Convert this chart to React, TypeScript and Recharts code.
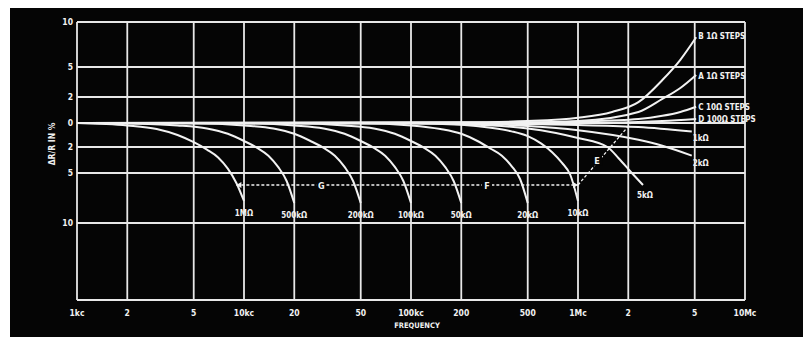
import React from 'react';
import { LineChart, Line, XAxis, YAxis, CartesianGrid, ReferenceDot, Label } from 'recharts';

const freqTicks = [1e3, 2e3, 5e3, 1e4, 2e4, 5e4, 1e5, 2e5, 5e5, 1e6, 2e6, 5e6, 1e7];
const freqLabels = ['1kc', '2', '5', '10kc', '20', '50', '100kc', '200', '500', '1Mc', '2', '5', '10Mc'];
const pctTicks = [10, 5, 2, 0, -2, -5, -10, -20];
const pctLabels = ['10', '5', '2', '0', '2', '5', '10', ''];

// [frequency in c/s, ΔR/R in %]
const r1M = [[1e3, 0], [2e3, -0.2], [3e3, -0.5], [4e3, -1.0], [5e3, -1.6], [6e3, -2.3], [7e3, -3.2], [8e3, -4.5], [9e3, -6.0], [1e4, -7.8]];
const r500k = [[1e3, 0], [2e3, -0.05], [4e3, -0.2], [6e3, -0.45], [8e3, -0.9], [1e4, -1.5], [1.2e4, -2.1], [1.4e4, -3.0], [1.6e4, -4.3], [1.8e4, -5.8], [2e4, -8.0]];
const r200k = [[1e3, 0], [5e3, -0.02], [1e4, -0.2], [1.5e4, -0.45], [2e4, -0.9], [2.5e4, -1.5], [3e4, -2.1], [3.5e4, -3.0], [4e4, -4.3], [4.5e4, -5.8], [5e4, -8.0]];
const r100k = [[1e3, 0], [1e4, -0.02], [2e4, -0.2], [3e4, -0.45], [4e4, -0.9], [5e4, -1.5], [6e4, -2.1], [7e4, -3.0], [8e4, -4.3], [9e4, -5.8], [1e5, -8.0]];
const r50k = [[1e3, 0], [2e4, -0.02], [4e4, -0.2], [6e4, -0.45], [8e4, -0.9], [1e5, -1.5], [1.2e5, -2.1], [1.4e5, -3.0], [1.6e5, -4.3], [1.8e5, -5.8], [2e5, -8.0]];
const r20k = [[1e3, 0], [5e4, -0.02], [1e5, -0.2], [1.5e5, -0.5], [2e5, -0.9], [2.5e5, -1.5], [3e5, -2.2], [3.5e5, -3.0], [4e5, -4.2], [4.5e5, -5.6], [5e5, -8.0]];
const r10k = [[1e3, 0], [1e5, -0.02], [2e5, -0.15], [3e5, -0.4], [4e5, -0.7], [5e5, -1.1], [6e5, -1.7], [7e5, -2.6], [8e5, -3.8], [9e5, -5.2], [1e6, -7.8]];
const r5k = [[1e3, 0], [1e5, 0], [2e5, -0.1], [5e5, -0.45], [1e6, -1.25], [1.5e6, -2.0], [1.75e6, -3.3], [2.1e6, -5.0], [2.45e6, -6.2]];
const r2k = [[1e3, 0], [2e5, -0.05], [5e5, -0.25], [1e6, -0.6], [2.3e6, -1.4], [3.2e6, -1.9], [4.8e6, -3.0]];
const r1k = [[1e3, 0], [2e5, -0.02], [5e5, -0.08], [1e6, -0.17], [2.3e6, -0.33], [4.8e6, -0.7]];
const stepsB = [[1e3, 0], [2e5, 0.05], [5e5, 0.15], [1e6, 0.4], [1.6e6, 0.85], [2.3e6, 1.6], [3.2e6, 3.7], [4.1e6, 5.8], [5.1e6, 8.3]];
const stepsA = [[1e3, 0], [5e5, 0.05], [1e6, 0.15], [2.3e6, 0.85], [3.2e6, 1.85], [4.1e6, 2.9], [5.1e6, 4.2]];
const stepsC = [[1e3, 0], [5e5, 0.02], [1e6, 0.1], [2.3e6, 0.3], [3.2e6, 0.55], [4.1e6, 0.85], [5.1e6, 1.25]];
const stepsD = [[1e3, 0], [1e6, 0], [2.3e6, 0.08], [3.2e6, 0.15], [5.1e6, 0.3]];
const lineGF = [[9e3, -6.2], [1e6, -6.2]];
const lineE = [[1e6, -6.2], [2.05e6, -0.1]];
const letterSpots = [['G', 2.9e4, -6.2], ['F', 2.85e5, -6.2], ['E', 1.3e6, -3.6]];

// the paper's ruling is not linear in %: map % onto the printed grid spacing
const yBreaks = [[-20, -177], [-10, -100], [-5, -50], [-2, -24], [0, 0], [2, 26], [5, 56], [10, 101]];
const toPlot = (p: number) => {
  for (let i = 0; i < yBreaks.length - 1; i++) {
    const [p0, u0] = yBreaks[i];
    const [p1, u1] = yBreaks[i + 1];
    if (p <= p1) return u0 + ((p - p0) / (p1 - p0)) * (u1 - u0);
  }
  return yBreaks[yBreaks.length - 1][1];
};
const mk = (pts: number[][]) => pts.map(([f, p]) => ({ f, v: toPlot(p) }));

const FONT = '"DejaVu Sans Condensed", "Liberation Sans Narrow", "DejaVu Sans", sans-serif';
const INK = '#f2f2f2';

const endLabel = (text: string, n: number, dx: number, dy: number, anchor: string) => (props: any) => {
  if (props.index !== n - 1) return null;
  return (
    <text x={props.x + dx} y={props.y + dy} fill={INK} fontSize={8} fontWeight="bold" fontFamily={FONT} textAnchor={anchor}>
      {text}
    </text>
  );
};

const curves = [
  { key: '1M', pts: r1M, text: '1MΩ', dx: 0, dy: 15, anchor: 'middle' },
  { key: '500k', pts: r500k, text: '500kΩ', dx: 0, dy: 15, anchor: 'middle' },
  { key: '200k', pts: r200k, text: '200kΩ', dx: 0, dy: 15, anchor: 'middle' },
  { key: '100k', pts: r100k, text: '100kΩ', dx: 0, dy: 15, anchor: 'middle' },
  { key: '50k', pts: r50k, text: '50kΩ', dx: 0, dy: 15, anchor: 'middle' },
  { key: '20k', pts: r20k, text: '20kΩ', dx: 0, dy: 15, anchor: 'middle' },
  { key: '10k', pts: r10k, text: '10kΩ', dx: 0, dy: 15, anchor: 'middle' },
  { key: '5k', pts: r5k, text: '5kΩ', dx: 2, dy: 13, anchor: 'middle' },
  { key: '2k', pts: r2k, text: '2kΩ', dx: 1, dy: 10, anchor: 'start' },
  { key: '1k', pts: r1k, text: '1kΩ', dx: 1, dy: 10, anchor: 'start' },
  { key: 'B', pts: stepsB, text: 'B  1Ω STEPS', dx: 2, dy: 2, anchor: 'start' },
  { key: 'A', pts: stepsA, text: 'A  1Ω STEPS', dx: 2, dy: 4, anchor: 'start' },
  { key: 'C', pts: stepsC, text: 'C  10Ω  STEPS', dx: 2, dy: 3, anchor: 'start' },
  { key: 'D', pts: stepsD, text: 'D  100Ω STEPS', dx: 2, dy: 3, anchor: 'start' },
];

const Arrow = (props: any) => {
  const { cx, cy, index } = props;
  if (cx == null || cy == null) return null;
  const d = index === 0 ? -1 : 1;
  return <path key={`a-${index}`} d={`M${cx},${cy} L${cx - d * 5},${cy - 3} L${cx - d * 5},${cy + 3} Z`} fill={INK} />;
};

const Letter = (text: string) => (props: any) => {
  const { x, y } = props.viewBox;
  return (
    <g>
      <rect x={x - 5} y={y - 5} width={10} height={10} fill="#050505" />
      <text x={x} y={y + 3.5} fill={INK} fontSize={9} fontWeight="bold" fontFamily={FONT} textAnchor="middle">
        {text}
      </text>
    </g>
  );
};

const App: React.FC = () => {
  return (
    <div style={{ marginLeft: 2, width: 798, height: 329, background: '#050505' }}>
      <LineChart width={798} height={329} margin={{ top: 14, right: 63, bottom: 17, left: 37 }}>
        <CartesianGrid stroke="#e8e8e8" strokeWidth={1.8} />
        <XAxis
          dataKey="f"
          type="number"
          scale="log"
          domain={[1e3, 1e7]}
          ticks={freqTicks}
          allowDataOverflow
          axisLine={false}
          tickLine={false}
          tickMargin={4}
          height={20}
          tick={{ fill: INK, fontSize: 8.5, fontWeight: 'bold', fontFamily: FONT }}
          tickFormatter={(v: number) => freqLabels[freqTicks.indexOf(v)] ?? ''}
        >
          <Label
            content={(p: any) => {
              const vb = p.viewBox;
              return (
                <text x={vb.x + vb.width / 2 + 6} y={vb.y + vb.height + 8} fill={INK} fontSize={7.5} fontWeight="bold" fontFamily={FONT} textAnchor="middle">
                  FREQUENCY
                </text>
              );
            }}
          />
        </XAxis>
        <YAxis
          type="number"
          domain={[toPlot(-20), toPlot(10)]}
          ticks={pctTicks.map(toPlot)}
          allowDataOverflow
          axisLine={false}
          tickLine={false}
          tickSize={0}
          tickMargin={4}
          width={30}
          tick={{ fill: INK, fontSize: 8.5, fontWeight: 'bold', fontFamily: FONT }}
          tickFormatter={(v: number) => {
            const i = pctTicks.findIndex((p) => Math.abs(toPlot(p) - v) < 0.01);
            return i >= 0 ? pctLabels[i] : '';
          }}
        >
          <Label
            content={(p: any) => {
              const vb = p.viewBox;
              const x = vb.x + 8;
              const y = 136;
              return (
                <text x={x} y={y} transform={`rotate(-90 ${x} ${y})`} fill={INK} fontSize={8.5} fontWeight="bold" fontFamily={FONT} textAnchor="middle">
                  ΔR/R IN %
                </text>
              );
            }}
          />
        </YAxis>
        {curves.map((c) => (
          <Line
            key={c.key}
            data={mk(c.pts)}
            dataKey="v"
            type="monotone"
            stroke={INK}
            strokeWidth={2}
            dot={false}
            isAnimationActive={false}
            label={endLabel(c.text, c.pts.length, c.dx, c.dy, c.anchor)}
          />
        ))}
        <Line data={mk(lineGF)} dataKey="v" type="linear" stroke={INK} strokeWidth={1.3} strokeDasharray="3 2" dot={Arrow} isAnimationActive={false} />
        <Line data={mk(lineE)} dataKey="v" type="linear" stroke={INK} strokeWidth={1.3} strokeDasharray="3 2" dot={false} isAnimationActive={false} />
        {letterSpots.map(([t, f, p]) => (
          <ReferenceDot key={t as string} x={f as number} y={toPlot(p as number)} r={0} stroke="none" label={Letter(t as string)} />
        ))}
      </LineChart>
    </div>
  );
};

export default App;
